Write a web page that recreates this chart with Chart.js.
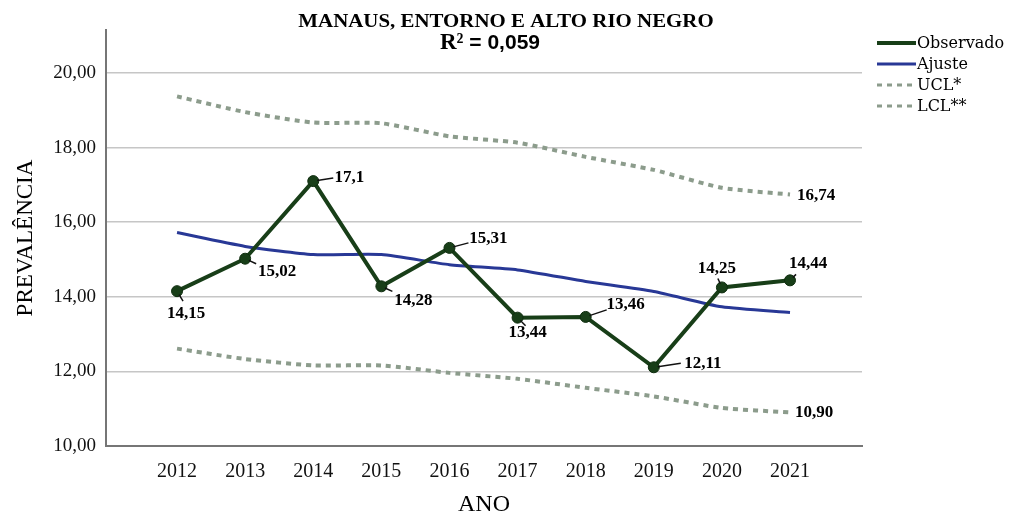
<!DOCTYPE html>
<html>
<head>
<meta charset="utf-8">
<script src="https://cdn.jsdelivr.net/npm/chart.js@4"></script>
<style>
  html, body { margin: 0; padding: 0; background: #fff; }
  #wrap { width: 1013px; height: 519px; }
</style>
</head>
<body>
<div id="wrap"><canvas id="prevalencia_chart"></canvas></div>
<script>
const anos = [2012, 2013, 2014, 2015, 2016, 2017, 2018, 2019, 2020, 2021];
const observado = [14.15, 15.02, 17.1, 14.28, 15.31, 13.44, 13.46, 12.11, 14.25, 14.44];
const ajuste = [15.72, 15.35, 15.13, 15.13, 14.86, 14.72, 14.41, 14.14, 13.73, 13.58];
const ucl = [19.37, 18.95, 18.67, 18.65, 18.3, 18.13, 17.75, 17.4, 16.92, 16.74];
const lcl = [12.61, 12.33, 12.16, 12.16, 11.96, 11.8, 11.56, 11.33, 11.02, 10.90];

const titulo = 'MANAUS, ENTORNO E ALTO RIO NEGRO';
const r2Rotulo = 'R²';
const r2Valor = ' = 0,059';

function toPoints(xs, ys) {
    return xs.map((x, i) => ({ x: x, y: ys[i] }));
}

// label offsets from each point: label centre (dx, dy), leader end (ex, ey)
const obsLabelPos = [
    { dx: 9, dy: 22, ex: 6, ey: 10 },
    { dx: 32, dy: 13, ex: 11, ey: 5 },
    { dx: 36, dy: -3, ex: 20, ey: -3 },
    { dx: 32, dy: 14, ex: 11, ey: 5 },
    { dx: 39, dy: -9, ex: 19, ey: -5 },
    { dx: 10, dy: 15, ex: 8, ey: 8 },
    { dx: 40, dy: -12, ex: 21, ey: -7 },
    { dx: 49, dy: -4, ex: 27, ey: -4 },
    { dx: -5, dy: -19, ex: -4, ey: -9 },
    { dx: 18, dy: -17, ex: 6, ey: -6 }
];

const fmtVirgula = v => String(v).replace('.', ',');
const fmt2 = v => v.toFixed(2).replace('.', ',');

// text stretched horizontally around a centre x
function wideText(ctx, text, cx, cy, sx) {
    ctx.save();
    ctx.translate(cx, cy);
    ctx.scale(sx, 1);
    ctx.fillText(text, 0, 0);
    ctx.restore();
}

const annotations = {
    id: 'annotations',
    afterDraw(chart) {
        const ctx = chart.ctx;
        ctx.save();

        // titles
        ctx.fillStyle = '#000';
        ctx.textAlign = 'center';
        ctx.textBaseline = 'middle';
        ctx.font = 'bold 19px "Liberation Serif"';
        wideText(ctx, titulo, 506, 22, 1.1);

        ctx.textAlign = 'left';
        ctx.font = 'bold 23px "Liberation Serif"';
        const wR = ctx.measureText(r2Rotulo).width;
        ctx.font = 'bold 21px "Liberation Sans"';
        const wV = ctx.measureText(r2Valor).width;
        const x0 = 490 - (wR + wV) / 2;
        ctx.font = 'bold 23px "Liberation Serif"';
        ctx.fillText(r2Rotulo, x0, 43);
        ctx.font = 'bold 21px "Liberation Sans"';
        ctx.fillText(r2Valor, x0 + wR, 43);

        // value labels on Observado
        ctx.textAlign = 'center';
        const obsMeta = chart.getDatasetMeta(0);
        ctx.font = 'bold 17px "Liberation Serif"';
        ctx.strokeStyle = '#111';
        ctx.lineWidth = 1.5;
        obsMeta.data.forEach((pt, i) => {
            const p = obsLabelPos[i];
            const len = Math.hypot(p.ex, p.ey);
            ctx.beginPath();
            ctx.moveTo(pt.x + p.ex / len * 4, pt.y + p.ey / len * 4);
            ctx.lineTo(pt.x + p.ex, pt.y + p.ey);
            ctx.stroke();
            ctx.fillText(fmtVirgula(observado[i]), pt.x + p.dx, pt.y + p.dy);
        });

        // last values of the control limits
        const last = anos.length - 1;
        const uPt = chart.getDatasetMeta(2).data[last];
        const lPt = chart.getDatasetMeta(3).data[last];
        ctx.fillText(fmt2(ucl[last]), uPt.x + 26, uPt.y + 1);
        ctx.fillText(fmt2(lcl[last]), lPt.x + 24, lPt.y);

        // legend
        ctx.textAlign = 'left';
        ctx.font = '16px "DejaVu Serif"';
        chart.data.datasets.forEach((ds, i) => {
            const y = 43 + i * 21;
            ctx.beginPath();
            ctx.setLineDash(ds.borderDash || []);
            ctx.strokeStyle = ds.borderColor;
            ctx.lineWidth = ds.legendWidth;
            ctx.moveTo(877, y);
            ctx.lineTo(916, y);
            ctx.stroke();
            ctx.setLineDash([]);
            ctx.fillStyle = '#000';
            ctx.fillText(ds.label, 917, y + 1);
        });

        ctx.restore();
    }
};

const ctx1 = document.getElementById('prevalencia_chart').getContext('2d');

const prevalencia_chart = new Chart(ctx1, {
    type: 'line',
    data: {
        datasets: [{
            label: 'Observado',
            data: toPoints(anos, observado),
            borderColor: 'rgb(24, 62, 24)',
            backgroundColor: 'rgb(24, 62, 24)',
            pointBackgroundColor: 'rgb(24, 62, 24)',
            pointBorderColor: 'rgb(14, 44, 14)',
            borderWidth: 4,
            pointRadius: 5.5,
            pointBorderWidth: 1,
            legendWidth: 4,
            tension: 0,
        }, {
            label: 'Ajuste',
            data: toPoints(anos, ajuste),
            borderColor: 'rgb(40, 56, 150)',
            borderWidth: 3,
            pointRadius: 0,
            legendWidth: 3,
            tension: 0.2,
        }, {
            label: 'UCL*',
            data: toPoints(anos, ucl),
            borderColor: 'rgb(140, 156, 140)',
            borderWidth: 4,
            borderDash: [5, 5],
            pointRadius: 0,
            legendWidth: 3,
            tension: 0.2,
        }, {
            label: 'LCL**',
            data: toPoints(anos, lcl),
            borderColor: 'rgb(140, 156, 140)',
            borderWidth: 4,
            borderDash: [5, 5],
            pointRadius: 0,
            legendWidth: 3,
            tension: 0.2,
        }],
    },
    plugins: [annotations],
    options: {
        responsive: true,
        maintainAspectRatio: false,
        animation: false,
        layout: {
            padding: { top: 30, right: 151, bottom: 0, left: 0 }
        },
        scales: {
            x: {
                type: 'linear',
                min: 2010.957,
                max: 2022.057,
                afterBuildTicks: scale => {
                    scale.ticks = anos.map(a => ({ value: a }));
                },
                afterFit: scale => { scale.height = 73; },
                grid: { display: false },
                border: { display: true, color: '#767676', width: 2 },
                ticks: {
                    padding: 6,
                    color: '#111',
                    font: { family: 'Liberation Serif', size: 20 },
                    callback: v => String(v),
                    maxRotation: 0,
                },
                title: {
                    display: true,
                    text: 'ANO',
                    color: '#000',
                    font: { family: 'Liberation Serif', size: 24 },
                    padding: { top: 0, bottom: 0 },
                }
            },
            y: {
                min: 10,
                max: 21.15,
                afterFit: scale => { scale.width = 106; },
                grid: {
                    color: '#c6c6c6',
                    lineWidth: 1.5,
                    drawTicks: false,
                },
                border: { display: true, color: '#767676', width: 2 },
                ticks: {
                    stepSize: 2,
                    includeBounds: false,
                    padding: 10,
                    color: '#111',
                    font: { family: 'Liberation Serif', size: 19 },
                    callback: v => fmt2(v),
                },
                title: {
                    display: true,
                    text: 'PREVALÊNCIA',
                    color: '#000',
                    font: { family: 'Liberation Serif', size: 23 },
                    padding: { top: 12, bottom: 0 },
                }
            }
        },
        plugins: {
            legend: { display: false },
            tooltip: { enabled: false },
        }
    }
});
</script>
</body>
</html>
